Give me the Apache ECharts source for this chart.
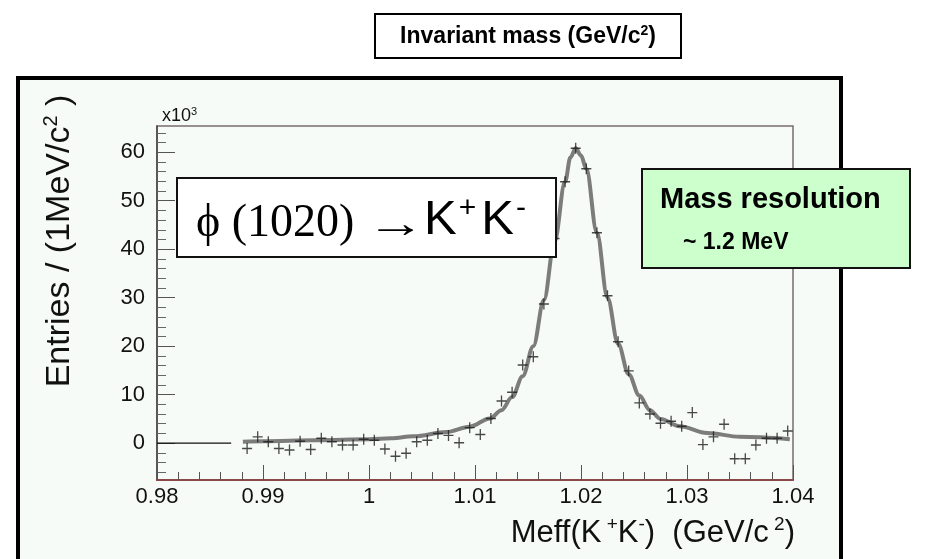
<!DOCTYPE html>
<html>
<head>
<meta charset="utf-8">
<script src="https://cdn.jsdelivr.net/npm/echarts@6/dist/echarts.min.js"></script>
<style>
  html, body { margin: 0; padding: 0; background: #ffffff; }
  #chart { width: 933px; height: 559px; }
</style>
</head>
<body>
<div id="chart"></div>
<script>
// ---- data ----
const binCenters = [0.9885, 0.9895, 0.9905, 0.9915, 0.9925, 0.9935, 0.9945, 0.9955, 0.9965, 0.9975,
                    0.9985, 0.9995, 1.0005, 1.0015, 1.0025, 1.0035, 1.0045, 1.0055, 1.0065, 1.0075,
                    1.0085, 1.0095, 1.0105, 1.0115, 1.0125, 1.0135, 1.0145, 1.0155, 1.0165, 1.0175,
                    1.0185, 1.0195, 1.0205, 1.0215, 1.0225, 1.0235, 1.0245, 1.0255, 1.0265, 1.0275,
                    1.0285, 1.0295, 1.0305, 1.0315, 1.0325, 1.0335, 1.0345, 1.0355, 1.0365, 1.0375,
                    1.0385, 1.0395];
const entries = [-1.1, 1.3, 0.3, -1.1, -1.4, 0.4, -1.3, 1.0, 0.3, -0.4,
                 -0.4, 0.8, 0.6, -1.2, -2.7, -2.1, 0.3, 0.6, 2.0, 1.6,
                 0.1, 3.2, 1.8, 5.1, 8.7, 10.5, 16.1, 17.8, 28.7, 42.2,
                 53.9, 60.8, 56.6, 43.4, 30.4, 20.9, 14.9, 8.3, 6.0, 4.1,
                 4.5, 3.5, 6.3, -0.3, 1.3, 3.9, -3.2, -3.2, -0.4, 1.0,
                 1.0, 2.5];
const fitX = [0.9881, 0.9900, 0.9950, 1.0000, 1.0021, 1.0042, 1.0073, 1.0095, 1.0114, 1.0125,
              1.0135, 1.0145, 1.0155, 1.0165, 1.0175, 1.0185, 1.0190, 1.0195, 1.0200, 1.0205,
              1.0215, 1.0225, 1.0235, 1.0245, 1.0255, 1.0265, 1.0275, 1.0293, 1.0319, 1.0350, 1.0397];
const fitY = [0.3, 0.4, 0.6, 0.8, 1.0, 1.4, 2.3, 3.4, 5.1, 6.8,
              9.5, 13.8, 20.0, 29.5, 41.5, 53.9, 58.9, 60.8, 59.3, 56.6,
              43.4, 30.0, 20.5, 14.2, 9.8, 6.8, 5.0, 3.5, 2.1, 1.3, 0.8];
const baseLineX = [0.9800, 0.9870];
const baseLineY = [0, 0];
const xTickLabels = ['0.98', '0.99', '1', '1.01', '1.02', '1.03', '1.04'];
const yTickValues = [0, 10, 20, 30, 40, 50, 60];
const yTickLabels = ['0', '10', '20', '30', '40', '50', '60'];
const yMinorTickValues = [-6, -4, -2, 2, 4, 6, 8, 12, 14, 16, 18, 22, 24, 26, 28, 32, 34, 36, 38,
                          42, 44, 46, 48, 52, 54, 56, 58, 62, 64];

// ---- chart ----
const SANS = "'Liberation Sans', Arial, Helvetica, sans-serif";
const SERIF = "'Liberation Serif', 'Times New Roman', serif";
const chart = echarts.init(document.getElementById('chart'), null, { renderer: 'canvas' });

const fitData = fitX.map((x, i) => [x, fitY[i]]);
const pointData = binCenters.map((x, i) => [x, entries[i]]);
const baseData = baseLineX.map((x, i) => [x, baseLineY[i]]);

const option = {
  backgroundColor: '#ffffff',
  animation: false,
  grid: {
    left: 157, right: 140, top: 126, bottom: 79,
    show: true, backgroundColor: '#f6fbf8', borderColor: '#7a6c6c', borderWidth: 1.5
  },
  xAxis: {
    type: 'value', min: 0.98, max: 1.04, interval: 0.01,
    axisLine: { show: true, onZero: false, lineStyle: { color: '#8a4848', width: 2 } },
    axisTick: { show: true, inside: true, length: 15, lineStyle: { color: '#555', width: 1 } },
    minorTick: { show: true, splitNumber: 5, length: 8, lineStyle: { color: '#555', width: 1 } },
    splitLine: { show: false },
    axisLabel: {
      fontFamily: SANS, fontSize: 22, color: '#111', margin: 6,
      formatter: function (v) {
        const idx = Math.round((v - 0.98) / 0.01);
        return xTickLabels[idx] !== undefined ? xTickLabels[idx] : '';
      }
    }
  },
  yAxis: [
    {
      type: 'value', min: -7.6, max: 65.4, position: 'left',
      axisLine: { show: true, onZero: false, lineStyle: { color: '#444', width: 1.5 } },
      axisTick: { show: true, inside: true, length: 18, customValues: yTickValues, lineStyle: { color: '#555', width: 1 } },
      splitLine: { show: false },
      axisLabel: {
        fontFamily: SANS, fontSize: 22, color: '#111', margin: 12,
        customValues: yTickValues,
        formatter: function (v) {
          const idx = yTickValues.indexOf(Math.round(v));
          return idx >= 0 ? yTickLabels[idx] : '';
        }
      }
    },
    {
      type: 'value', min: -7.6, max: 65.4, position: 'left', offset: 0,
      axisLine: { show: false, onZero: false },
      axisTick: { show: true, inside: true, length: 9, customValues: yMinorTickValues, lineStyle: { color: '#666', width: 1 } },
      axisLabel: { show: false },
      splitLine: { show: false }
    }
  ],
  series: [
    {
      type: 'line', data: baseData, yAxisIndex: 0, showSymbol: false, symbol: 'none',
      lineStyle: { color: '#111', width: 1.2 }, z: 3, silent: true
    },
    {
      type: 'line', data: fitData, yAxisIndex: 0, smooth: 0.35, smoothMonotone: 'x',
      symbol: 'none', lineStyle: { color: '#7c7c7c', width: 4 }, z: 3, silent: true
    },
    {
      type: 'scatter', data: pointData, yAxisIndex: 0,
      symbol: 'path://M0,4.35H10V5.65H0Z M4.35,0H5.65V10H4.35Z',
      symbolSize: [10, 11], itemStyle: { color: '#1c1c1c' }, z: 4, silent: true
    }
  ],
  graphic: {
    elements: [
      // outer frame background
      { type: 'rect', z: -100, silent: true,
        shape: { x: 18, y: 78, width: 823, height: 500 },
        style: { fill: '#f6fbf8' } },
      // outer frame border
      { type: 'rect', z: 50, silent: true,
        shape: { x: 18, y: 78, width: 823, height: 500 },
        style: { fill: 'none', stroke: '#000', lineWidth: 4 } },
      // title box
      { type: 'rect', z: 60, silent: true,
        shape: { x: 375, y: 14, width: 306, height: 44 },
        style: { fill: '#fff', stroke: '#000', lineWidth: 2 } },
      { type: 'text', z: 61, silent: true, x: 528, y: 37,
        style: {
          text: '{b|Invariant mass (GeV/c}{s|2}{b|)}',
          align: 'center', verticalAlign: 'middle',
          rich: {
            b: { fontFamily: SANS, fontWeight: 'bold', fontSize: 23, fill: '#000', lineHeight: 25 },
            s: { fontFamily: SANS, fontWeight: 'bold', fontSize: 14, fill: '#000', verticalAlign: 'top', lineHeight: 25 }
          }
        } },
      // y axis title
      { type: 'text', z: 61, silent: true, x: 60, y: 241, rotation: Math.PI / 2,
        style: {
          text: '{n|Entries / (1MeV/c}{s|2}{n| )}',
          align: 'center', verticalAlign: 'middle',
          rich: {
            n: { fontFamily: SANS, fontSize: 34, fill: '#111', lineHeight: 38 },
            s: { fontFamily: SANS, fontSize: 20, fill: '#111', verticalAlign: 'top', lineHeight: 38 }
          }
        } },
      // x10^3
      { type: 'text', z: 61, silent: true, x: 162, y: 116,
        style: {
          text: '{n|x10}{s|3}',
          align: 'left', verticalAlign: 'middle',
          rich: {
            n: { fontFamily: SANS, fontSize: 18, fill: '#111', lineHeight: 20 },
            s: { fontFamily: SANS, fontSize: 11, fill: '#111', verticalAlign: 'top', lineHeight: 20 }
          }
        } },
      // x axis title
      { type: 'text', z: 61, silent: true, x: 795, y: 533,
        style: {
          text: '{n|Meff(K}{s| +}{n|K}{s|-}{n|)  (GeV/c}{s| 2}{n|)}',
          align: 'right', verticalAlign: 'middle',
          rich: {
            n: { fontFamily: SANS, fontSize: 31, fill: '#111', lineHeight: 36 },
            s: { fontFamily: SANS, fontSize: 19, fill: '#111', verticalAlign: 'top', lineHeight: 36 }
          }
        } },
      // phi box
      { type: 'rect', z: 60, silent: true,
        shape: { x: 177, y: 178, width: 379, height: 79 },
        style: { fill: '#fff', stroke: '#111', lineWidth: 2 } },
      { type: 'text', z: 61, silent: true, x: 196, y: 224,
        style: { text: '\u03D5 (1020)', font: '46px ' + SERIF, fill: '#000', align: 'left', verticalAlign: 'middle' } },
      { type: 'text', z: 61, silent: true, x: 366, y: 226, scaleX: 1.4, scaleY: 1,
        style: { text: '\u2192', font: '42px ' + SERIF, fill: '#000', align: 'left', verticalAlign: 'middle' } },
      { type: 'text', z: 61, silent: true, x: 424, y: 220,
        style: {
          text: '{k|K}{s|+}{k|K}{s|-}',
          align: 'left', verticalAlign: 'middle',
          rich: {
            k: { fontFamily: SANS, fontSize: 49, fill: '#000', lineHeight: 52 },
            s: { fontFamily: SANS, fontSize: 30, fill: '#000', verticalAlign: 'top', lineHeight: 52, padding: [0, 5, 0, 2] }
          }
        } },
      // mass resolution box
      { type: 'rect', z: 60, silent: true,
        shape: { x: 642, y: 169, width: 268, height: 99 },
        style: { fill: '#ccffcc', stroke: '#111', lineWidth: 2 } },
      { type: 'text', z: 61, silent: true, x: 660, y: 200,
        style: { text: 'Mass resolution', font: 'bold 29px ' + SANS, fill: '#000', align: 'left', verticalAlign: 'middle' } },
      { type: 'text', z: 61, silent: true, x: 683, y: 243,
        style: { text: '~ 1.2 MeV', font: 'bold 23px ' + SANS, fill: '#000', align: 'left', verticalAlign: 'middle' } }
    ]
  }
};
chart.setOption(option);
</script>
</body>
</html>
